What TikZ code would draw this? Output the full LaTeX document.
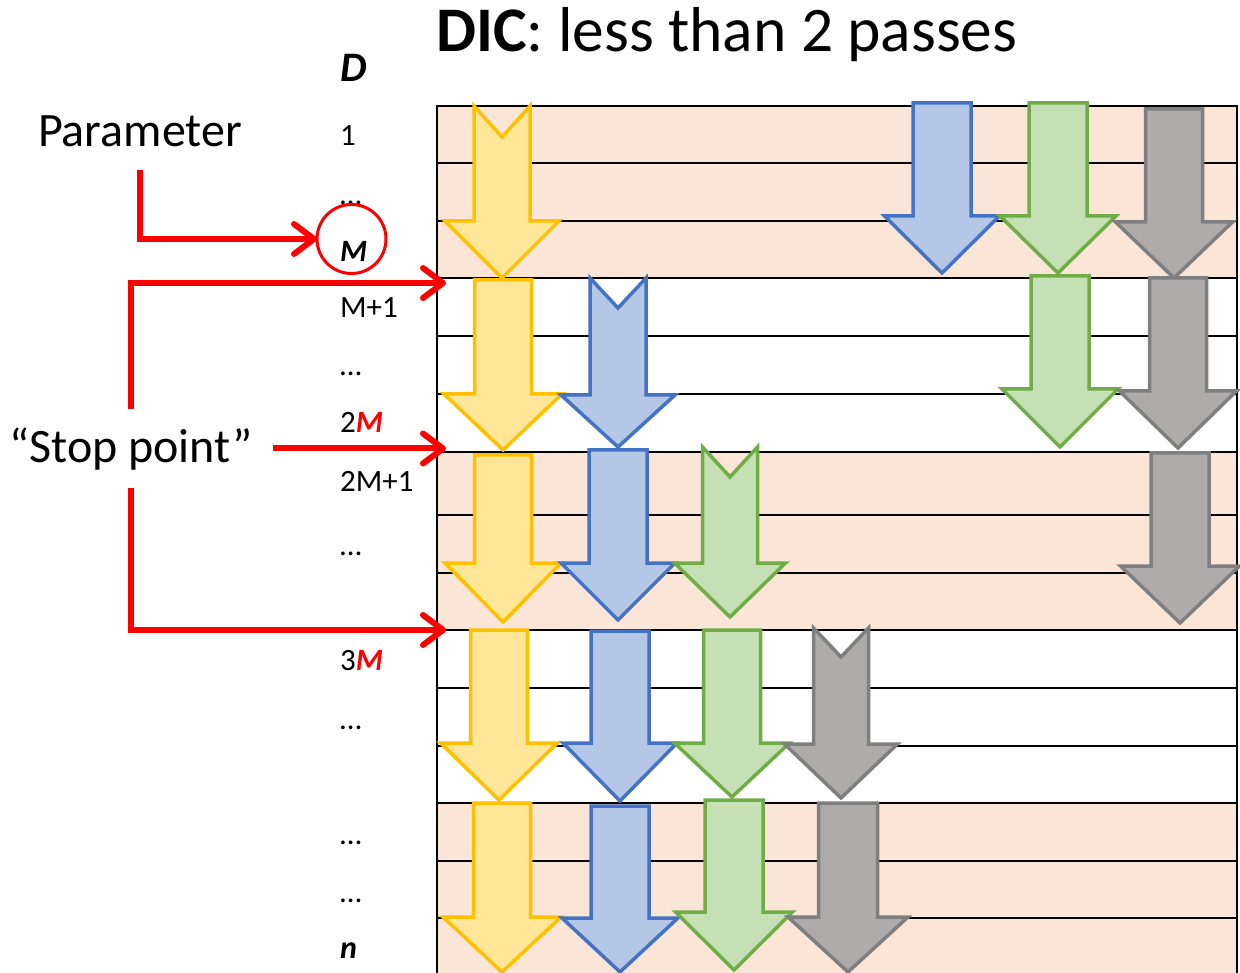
\documentclass[tikz,border=0pt]{standalone}
\usepackage{fontspec}
\setmainfont{Carlito}
\usetikzlibrary{arrows.meta}
\definecolor{peach}{HTML}{FBE5D6}
\definecolor{yfill}{HTML}{FFE699}
\definecolor{yline}{HTML}{FFC000}
\definecolor{bfill}{HTML}{B4C7E7}
\definecolor{bline}{HTML}{4472C4}
\definecolor{gfill}{HTML}{C5E0B4}
\definecolor{gline}{HTML}{70AD47}
\definecolor{kfill}{HTML}{AFABAB}
\definecolor{kline}{HTML}{7F7F7F}
\definecolor{pred}{HTML}{FF0000}
% cx, top, headY, tip, shaft half-width, head half-width, notch depth, style
\newcommand{\dnarrow}[8]{%
  \draw[#8] (#1-#5,#2) -- (#1,#2+#7) -- (#1+#5,#2) -- (#1+#5,#3) -- (#1+#6,#3)
    -- (#1,#4) -- (#1-#6,#3) -- (#1-#5,#3) -- cycle;}
\begin{document}
\begin{tikzpicture}[x=1pt,y=-1pt,
  tline/.style={draw=black,line width=2.5pt},
  yarr/.style={fill=yfill,draw=yline,line width=3.5pt,line join=miter},
  barr/.style={fill=bfill,draw=bline,line width=3.5pt,line join=miter},
  garr/.style={fill=gfill,draw=gline,line width=3.5pt,line join=miter},
  karr/.style={fill=kfill,draw=kline,line width=3.5pt,line join=miter},
  lab/.style={anchor=base west,inner sep=0pt,font=\fontsize{31}{37}\selectfont},
  redarrow/.style={draw=pred,line width=6pt,-{Straight Barb[length=20pt,width=30pt,round]}},
  bigtext/.style={font=\fontsize{48}{57}\selectfont}]
\useasboundingbox (0,0) rectangle (1240,973);
% table shading
\fill[peach] (437,106) rectangle (1237,278);
\fill[peach] (437,452) rectangle (1237,630);
\fill[peach] (437,803) rectangle (1237,973);
% table lines
\foreach \yy in {106,163,221,278,336,394,452,515,573,630,688,746,803,861,918}
  \draw[tline] (437,\yy) -- (1237,\yy);
\draw[tline] (437,105) -- (437,973);
\draw[tline] (1237,105) -- (1237,973);
% yellow arrows
\dnarrow{502}{106}{221}{278}{28}{57}{31}{yarr}
\dnarrow{503}{280}{394}{450}{28.5}{59}{0}{yarr}
\dnarrow{503}{455}{563}{622}{28.5}{58}{0}{yarr}
\dnarrow{499}{630}{743}{800}{28.5}{58.5}{0}{yarr}
\dnarrow{502}{803}{917}{972}{28.5}{59}{0}{yarr}
% blue arrows
\dnarrow{942}{103}{216}{273}{29}{57.5}{0}{barr}
\dnarrow{618}{278}{395}{447}{28}{57}{30}{barr}
\dnarrow{618}{450}{563}{620}{29}{57}{0}{barr}
\dnarrow{620}{631}{743}{801}{29}{57}{0}{barr}
\dnarrow{620}{806}{918}{972}{29}{58}{0}{barr}
% green arrows
\dnarrow{1058}{103}{216}{273}{29}{58}{0}{garr}
\dnarrow{1060}{276}{389}{447}{29}{58}{0}{garr}
\dnarrow{730}{447}{563}{617}{27.5}{55.5}{30}{garr}
\dnarrow{732}{630}{743}{797}{28.5}{57.5}{0}{garr}
\dnarrow{734}{800}{912}{970}{29}{58.5}{0}{garr}
% gray arrows
\dnarrow{1174}{109}{222}{278}{28.5}{58.5}{0}{karr}
\dnarrow{1178}{278}{391}{448}{28.5}{58.5}{0}{karr}
\dnarrow{1180}{453}{566}{623}{29}{59.5}{0}{karr}
\dnarrow{841}{628}{744}{798}{27.5}{56.5}{29}{karr}
\dnarrow{848}{803}{917}{972}{29.5}{60}{0}{karr}
% title
\node[anchor=base west,inner sep=0pt,font=\fontsize{63.5}{76}\selectfont] (title) at (436,52)
  {\textbf{DIC}: less than 2 passes};
% column labels
\node[lab,font=\fontsize{42}{50}\selectfont] (lD) at (340,82) {\textbf{\textit{D}}};
\node[lab] (l1) at (340,146) {1};
\node[lab] (ldA) at (340,205) {…};
\node[lab] (lM) at (340,262) {\textbf{\textit{M}}};
\node[lab] (lM1) at (340,318) {M+1};
\node[lab] (ldB) at (340,376) {…};
\node[lab] (l2M) at (340,433) {2\textcolor{pred}{\textbf{\textit{M}}}};
\node[lab] (l2M1) at (340,491) {2M+1};
\node[lab] (ldC) at (340,555) {…};
\node[lab] (l3M) at (340,670) {3\textcolor{pred}{\textbf{\textit{M}}}};
\node[lab] (ldD) at (340,729) {…};
\node[lab] (ldE) at (340,844) {…};
\node[lab] (ldF) at (340,902) {…};
\node[lab,font=\fontsize{32}{38}\selectfont] (ln) at (340,958) {\textbf{\textit{n}}};
% red circle around M
\node[draw=pred,line width=3pt,circle,minimum size=69pt,inner sep=0pt,outer sep=0pt] (mcirc) at (351.5,239) {};
% left texts
\node[bigtext,anchor=base,inner xsep=0pt,inner ysep=23pt,text depth=0pt] (param) at (140,147) {Parameter};
\node[bigtext,anchor=base,inner xsep=20pt,inner ysep=24pt,text height=30pt,text depth=1pt] (stop) at (131,463) {“Stop point”};
% stop targets at table edge
\coordinate (s1) at (446,283);
\coordinate (s2) at (446,448.5);
\coordinate (s3) at (446,630);
% red connectors
\draw[redarrow] (param.south) |- (mcirc.west);
\draw[redarrow] (stop.north) |- (s1);
\draw[redarrow] (stop.east) -- (s2);
\draw[redarrow] (stop.south) |- (s3);
\end{tikzpicture}
\end{document}
